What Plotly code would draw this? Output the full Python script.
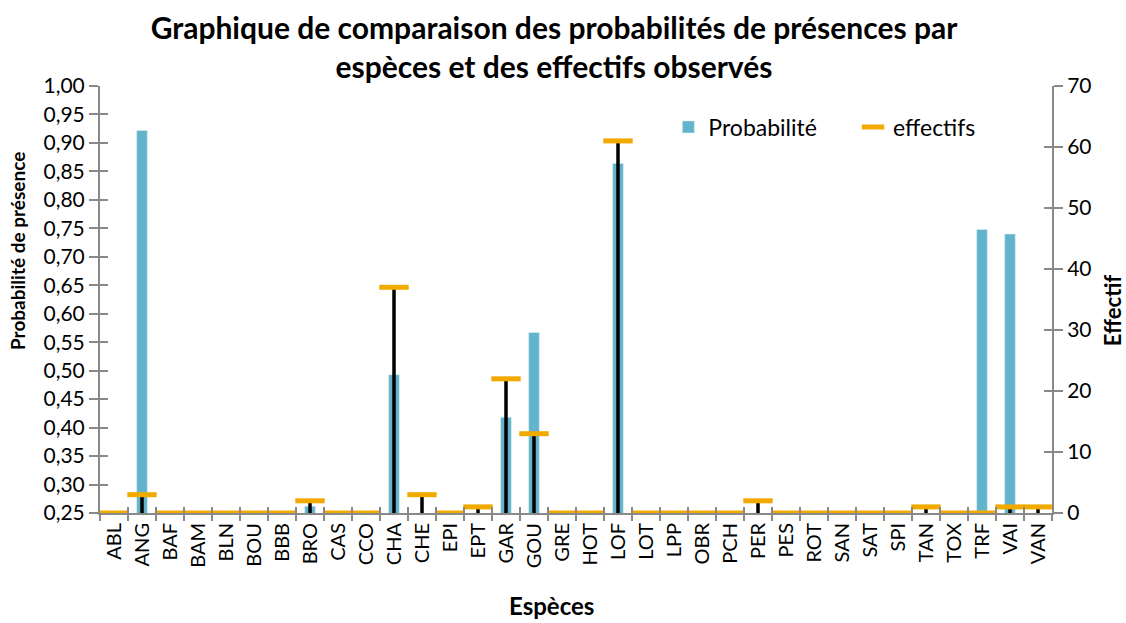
import plotly.graph_objects as go

especes = ["ABL", "ANG", "BAF", "BAM", "BLN", "BOU", "BBB", "BRO", "CAS", "CCO",
           "CHA", "CHE", "EPI", "EPT", "GAR", "GOU", "GRE", "HOT", "LOF", "LOT",
           "LPP", "OBR", "PCH", "PER", "PES", "ROT", "SAN", "SAT", "SPI", "TAN",
           "TOX", "TRF", "VAI", "VAN"]
probabilite = [0, 0.922, 0, 0, 0, 0, 0, 0.262, 0, 0,
               0.493, 0.245, 0, 0.245, 0.418, 0.567, 0, 0, 0.864, 0,
               0, 0, 0, 0.245, 0, 0, 0, 0, 0, 0.245,
               0, 0.748, 0.740, 0.245]
effectifs = [0, 3, 0, 0, 0, 0, 0, 2, 0, 0,
             37, 3, 0, 1, 22, 13, 0, 0, 61, 0,
             0, 0, 0, 2, 0, 0, 0, 0, 0, 1,
             0, 0, 1, 1]
zeros = [0] * len(effectifs)
left_ticks = [0.25 + 0.05 * i for i in range(16)]
right_ticks = list(range(0, 71, 10))
boundaries = [i - 0.5 for i in range(len(especes) + 1)]

FONT = "Lato"
BLUE = "#62B4CC"
ORANGE = "#F2AA00"
GREY = "#898989"

fig = go.Figure()
fig.add_trace(go.Bar(
    x=especes, y=probabilite, name="Probabilité", marker_color=BLUE,
    width=0.38, legend="legend", showlegend=True))
fig.add_trace(go.Scatter(
    x=especes, y=effectifs, name="effectifs", mode="markers", yaxis="y2",
    marker=dict(symbol="line-ew", size=21, color=ORANGE,
                line=dict(color=ORANGE, width=5)),
    error_y=dict(type="data", symmetric=False, array=zeros, arrayminus=effectifs,
                 color="black", thickness=3.5, width=0),
    legend="legend2", showlegend=True))
# empty helper traces so the tick-only overlay axes are drawn
fig.add_trace(go.Scatter(x=[], y=[], xaxis="x3", yaxis="y", showlegend=False, hoverinfo="skip"))
fig.add_trace(go.Scatter(x=[], y=[], xaxis="x", yaxis="y3", showlegend=False, hoverinfo="skip"))
fig.add_trace(go.Scatter(x=[], y=[], xaxis="x", yaxis="y4", showlegend=False, hoverinfo="skip"))

fig.update_layout(
    width=1126, height=623,
    margin=dict(l=100, r=74, t=86, b=110, autoexpand=False),
    plot_bgcolor="white", paper_bgcolor="white",
    showlegend=True,
    font=dict(family=FONT, color="black", size=18),
    title=dict(text="<b>Graphique de comparaison des probabilités de présences par<br>espèces et des effectifs observés</b>",
               x=0.492, xanchor="center", y=0.937, yanchor="middle",
               font=dict(family=FONT, size=30, color="black")),
    bargap=0.6,
    xaxis=dict(type="category", categoryorder="array", categoryarray=especes,
               range=[-0.5, len(especes) - 0.5], automargin=False,
               showline=True, linecolor=GREY, linewidth=2,
               ticks="outside", tickson="boundaries", ticklen=6, tickcolor=GREY, tickwidth=2,
               tickangle=-90, tickfont=dict(size=20, family=FONT), showgrid=False),
    xaxis3=dict(overlaying="x", anchor="y", range=[-0.5, len(especes) - 0.5],
                tickmode="array", tickvals=boundaries, showticklabels=False,
                ticks="inside", ticklen=6, tickcolor=GREY, tickwidth=2, automargin=False,
                showgrid=False, zeroline=False, showline=False),
    yaxis=dict(range=[0.25, 1.0], tickmode="array", tickvals=left_ticks, automargin=False,
               tickformat=".2f", showline=True, linecolor=GREY, linewidth=2,
               ticks="outside", ticklen=9, tickcolor=GREY, tickwidth=2,
               tickfont=dict(size=21, family=FONT), showgrid=False, zeroline=False),
    yaxis3=dict(overlaying="y", anchor="x", range=[0.25, 1.0], tickmode="array", automargin=False,
                tickvals=left_ticks, showticklabels=False, ticks="inside", ticklen=8,
                tickcolor=GREY, tickwidth=2, showgrid=False, zeroline=False, showline=False),
    yaxis2=dict(overlaying="y", side="right", range=[0, 70], tickmode="array", automargin=False,
                tickvals=right_ticks, showline=True, linecolor=GREY, linewidth=2,
                ticks="outside", ticklen=9, tickcolor=GREY, tickwidth=2,
                tickfont=dict(size=21, family=FONT), showgrid=False, zeroline=False),
    yaxis4=dict(overlaying="y", side="right", anchor="x", range=[0, 70], tickmode="array",
                tickvals=right_ticks, showticklabels=False, ticks="inside", ticklen=8, automargin=False,
                tickcolor=GREY, tickwidth=2, showgrid=False, zeroline=False, showline=False),
    separators=", ",
    legend=dict(x=0.597, y=0.904, xanchor="left", yanchor="middle", orientation="h",
                font=dict(size=23, family=FONT), bgcolor="rgba(0,0,0,0)"),
    legend2=dict(x=0.791, y=0.904, xanchor="left", yanchor="middle", orientation="h",
                 font=dict(size=23, family=FONT), bgcolor="rgba(0,0,0,0)"),
    annotations=[
        dict(text="<b>Probabilité de présence</b>", textangle=-90, xref="paper", yref="paper",
             x=-0.0861, y=0.6136, xanchor="center", yanchor="middle", showarrow=False,
             font=dict(size=19, family=FONT)),
        dict(text="<b>Effectif</b>", textangle=-90, xref="paper", yref="paper",
             x=1.063, y=0.475, xanchor="center", yanchor="middle", showarrow=False,
             font=dict(size=22, family=FONT)),
        dict(text="<b>Espèces</b>", xref="paper", yref="paper",
             x=0.474, y=-0.2155, xanchor="center", yanchor="middle", showarrow=False,
             font=dict(size=24, family=FONT)),
    ],
)

fig.write_html("out.html", config={"displayModeBar": False},
               post_script="document.body.style.margin='0';document.body.style.overflow='hidden';")
